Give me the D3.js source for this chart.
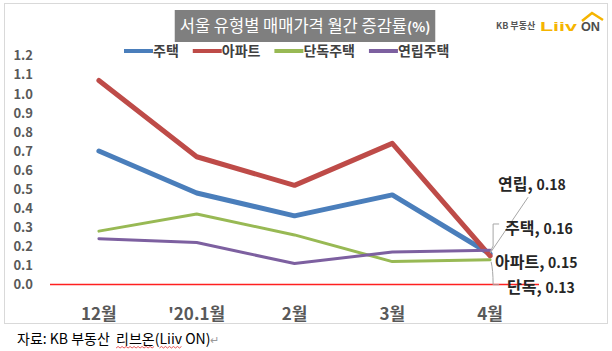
<!DOCTYPE html>
<html>
<head>
<meta charset="utf-8">
<script src="https://cdn.jsdelivr.net/npm/d3@7"></script>
<style>
  body { margin: 0; background: #fff; }
  svg { display: block; font-family: "Noto Sans CJK KR", "Noto Sans", sans-serif; }
</style>
</head>
<body>
<svg id="chart" width="612" height="351"></svg>
<script>
const months   = ["12월", "'20.1월", "2월", "3월", "4월"];
const house    = [0.70, 0.48, 0.36, 0.47, 0.16];
const apt      = [1.07, 0.67, 0.52, 0.74, 0.15];
const detached = [0.28, 0.37, 0.26, 0.12, 0.13];
const rowHouse = [0.24, 0.22, 0.11, 0.17, 0.18];
const yTicks   = [0, 0.1, 0.2, 0.3, 0.4, 0.5, 0.6, 0.7, 0.8, 0.9, 1.0, 1.1, 1.2];

const series = [
  { name: '주택',     short: '주택',   values: house,    color: '#4a7ebb', width: 5 },
  { name: '아파트',   short: '아파트', values: apt,      color: '#be4b48', width: 5 },
  { name: '단독주택', short: '단독',   values: detached, color: '#98b954', width: 3 },
  { name: '연립주택', short: '연립',   values: rowHouse, color: '#7d60a0', width: 3 }
];

const svg = d3.select('#chart');

// Frame
svg.append('rect')
  .attr('x', 4.5).attr('y', 3.5).attr('width', 603).attr('height', 320)
  .attr('fill', '#fff').attr('stroke', '#d9d9d9');

const x = d3.scaleBand().domain(months).range([50, 539]);
const y = d3.scaleLinear().domain([0, 1.2]).range([284.5, 55.7]);
const cx = m => x(m) + x.bandwidth() / 2;

// Title
const title = svg.append('text')
  .attr('x', 305).attr('y', 32).attr('text-anchor', 'middle')
  .attr('fill', '#fff').attr('font-size', 16.5);
title.append('tspan').text('서울 유형별 매매가격 월간 증감률');
title.append('tspan').attr('font-size', 13.5).attr('font-weight', 'bold').text('(%)');
const tb = title.node().getBBox();
svg.insert('rect', () => title.node())
  .attr('x', tb.x - 5).attr('y', 10).attr('width', tb.width + 10).attr('height', 32)
  .attr('fill', '#7f7f7f');

// Logo
svg.append('text').attr('x', 496).attr('y', 29).attr('font-size', 9)
  .attr('fill', '#555').attr('font-weight', 'bold').text('KB 부동산');
svg.append('text').attr('x', 540).attr('y', 31).attr('font-size', 13)
  .attr('font-family', 'Liberation Sans').attr('font-weight', 'bold')
  .attr('fill', '#f5b400').attr('textLength', 37).attr('lengthAdjust', 'spacingAndGlyphs')
  .text('Liiv');
svg.append('text').attr('x', 581).attr('y', 31).attr('font-size', 12)
  .attr('font-family', 'Liberation Sans').attr('font-weight', 'bold')
  .attr('fill', '#4d4d4d').attr('textLength', 19).attr('lengthAdjust', 'spacingAndGlyphs')
  .text('ON');
svg.append('path').attr('d', 'M582,21 L592,13 L603,20')
  .attr('fill', 'none').attr('stroke', '#f5b400').attr('stroke-width', 2.5);

// Legend
let lx = 124;
series.forEach(s => {
  svg.append('line')
    .attr('x1', lx).attr('x2', lx + 29).attr('y1', 51).attr('y2', 51)
    .attr('stroke', s.color).attr('stroke-width', 4);
  const t = svg.append('text')
    .attr('x', lx + 29).attr('y', 56).attr('font-size', 14).attr('font-weight', 'bold')
    .attr('fill', '#404040').text(s.name);
  lx += 29 + t.node().getComputedTextLength() + 14;
});

// Y axis
svg.append('g').attr('transform', 'translate(50,0)')
  .call(d3.axisLeft(y).tickValues(yTicks).tickFormat(d3.format('.1f')).tickSize(0).tickPadding(17))
  .call(g => g.select('.domain').remove())
  .selectAll('text')
  .attr('font-family', '"Noto Sans CJK KR", sans-serif')
  .attr('font-size', 13).attr('font-weight', 'bold').attr('fill', '#595959');

// X axis
svg.append('g').attr('transform', `translate(0,${y(0)})`)
  .call(d3.axisBottom(x).tickSize(0).tickPadding(23))
  .call(g => g.select('.domain').remove())
  .selectAll('text')
  .attr('font-family', '"Noto Sans CJK KR", sans-serif')
  .attr('font-size', 17).attr('font-weight', 'bold').attr('fill', '#595959');

// Zero line
svg.append('line')
  .attr('x1', x.range()[0]).attr('x2', x.range()[1])
  .attr('y1', y(0)).attr('y2', y(0))
  .attr('stroke', '#ff2020').attr('stroke-width', 1.5);

// Lines
const line = d3.line().x((d, i) => cx(months[i])).y(d => y(d));
series.forEach(s => {
  svg.append('path').datum(s.values)
    .attr('fill', 'none').attr('stroke', s.color).attr('stroke-width', s.width)
    .attr('stroke-linejoin', 'round').attr('stroke-linecap', 'round')
    .attr('d', line);
});

// End labels with leader lines
const last = months.length - 1;
const px = cx(months[last]);
const labelPos = {
  '연립':   { dx: 8,  dy: -66 },
  '주택':   { dx: 15, dy: -26 },
  '아파트': { dx: 5,  dy: 6 },
  '단독':   { dx: 17, dy: 28 }
};
const leader = svg.append('g').attr('fill', 'none').attr('stroke', '#a6a6a6').attr('stroke-width', 1);
const pyAt = s => y(s.values[last]);
leader.append('path').attr('d', `M${px},${pyAt(series[3]) + 3} L${px + 38},${pyAt(series[3]) - 53}`);
leader.append('path').attr('d', `M${px},${pyAt(series[0]) - 2} L${px + 3},${pyAt(series[0]) - 8} L${px + 3},${pyAt(series[0]) - 30} L${px + 9},${pyAt(series[0]) - 30}`);
leader.append('path').attr('d', `M${px + 1},${pyAt(series[2]) + 2} Q${px + 3},${pyAt(series[2]) + 10} ${px + 3},${pyAt(series[2]) + 25} L${px + 9},${pyAt(series[2]) + 25}`);

series.forEach(s => {
  const p = labelPos[s.short];
  const t = svg.append('text')
    .attr('x', px + p.dx).attr('y', y(s.values[last]) + p.dy)
    .attr('dy', '0.35em').attr('fill', '#262626').attr('font-weight', 'bold');
  t.append('tspan').attr('font-size', 16).text(s.short + ', ');
  t.append('tspan').attr('font-size', 14).text(d3.format('.2f')(s.values[last]));
});

// Source note
const src = svg.append('text').attr('x', 17).attr('y', 344).attr('font-size', 14).attr('fill', '#000');
src.append('tspan').text('자료: KB 부동산\u00a0\u00a0');
const t1 = src.append('tspan').text('리브온');
src.append('tspan').text('(');
const t2 = src.append('tspan').text('Liiv');
src.append('tspan').text(' ON)');
src.append('tspan').attr('fill', '#999').attr('font-size', 11).text('↵');
function wavy(tspan) {
  const b = tspan.node().getBBox();
  let d = `M${b.x},${b.y + b.height}`;
  for (let xx = b.x + 2, k = 0; xx <= b.x + b.width; xx += 2, k++) {
    d += ` L${xx},${b.y + b.height + (k % 2 === 0 ? -1.5 : 0)}`;
  }
  svg.append('path').attr('d', d).attr('fill', 'none').attr('stroke', '#e03030').attr('stroke-width', 0.8);
}
wavy(t1);
wavy(t2);
</script>
</body>
</html>
